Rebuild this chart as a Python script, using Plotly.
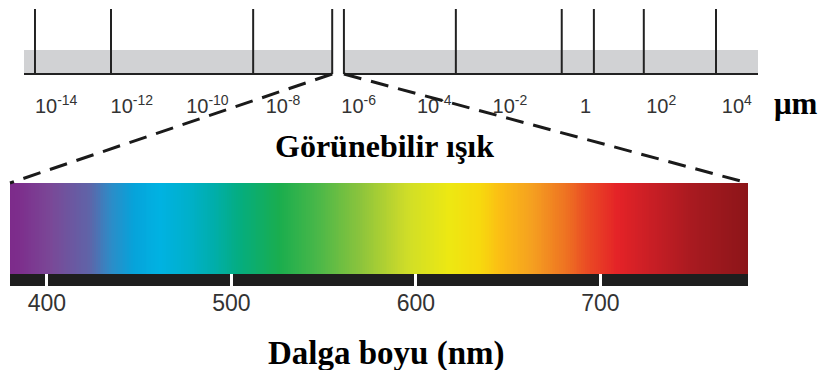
import numpy as np
import plotly.graph_objects as go

# page body has an 8px margin; figure is sized so it fits the 827x378 window
OFF = 8
FW, FH = 827 - 2 * OFF, 378 - 2 * OFF

# ---------------- data ----------------
# top scale: wavelength in micrometres, axis in log10 units (exponent)
scale_tick_exp = [-14, -12, -10, -8, -6, -4, -2, 0, 2, 4]
scale_tick_text = ["10<sup>-14</sup>", "10<sup>-12</sup>", "10<sup>-10</sup>", "10<sup>-8</sup>",
                   "10<sup>-6</sup>", "10<sup>-4</sup>", "10<sup>-2</sup>", "1",
                   "10<sup>2</sup>", "10<sup>4</sup>"]
# region boundaries (log10 of wavelength in um)
boundary_exp = [-14.56, -12.55, -8.79, -6.70, -6.39, -3.43, -0.63, 0.22, 1.54, 3.45]
# band segments (the break is the visible-light zoom)
band_segments = [(-14.85, -6.70), (-6.39, 4.56)]
visible_break = (-6.70, -6.39)

# visible spectrum
spectrum_range_nm = (380, 780)
spectrum_tick_nm = [400, 500, 600, 700]
spectrum_stop_nm = [380, 385, 402, 423, 434, 447, 461, 476, 490, 505, 526, 548, 570, 591,
                    597, 618, 635, 645, 663, 682, 693, 709, 728, 750, 780]
spectrum_stop_color = ["#7D2B8B", "#7D2E8C", "#7A4897", "#5F64A8", "#2F8AC6", "#06A3DA",
                       "#00B2E2", "#00B0CC", "#00AEAC", "#05AD7E", "#1AAD4E", "#4DB848",
                       "#8CC43C", "#C5D82C", "#D2DF26", "#EDE812", "#F7D90E", "#FBBF14",
                       "#F5A020", "#EE7022", "#EA4A24", "#E42327", "#C81E25", "#A81A20",
                       "#8C1519"]

title_visible = "Görünebilir ışık"
title_axis = "Dalga boyu (nm)"
unit_label = "μm"


# ---------------- layout geometry (window pixels -> paper) ----------------
def PX(p):
    return (p - OFF) / FW


def PY(p):
    return 1 - (p - OFF) / FH


top_dom_x = (PX(24), PX(758))
top_range_x = (band_segments[0][0], band_segments[1][1])
top_dom_y = (PY(76), 1.0)
UNIT = 65.0  # px per y unit on the top scale (y=0 at 74px, y=1 at 9px)
top_range_y = (-2 / UNIT, 1 + 1 / UNIT)
band_top = 24 / UNIT

spec_dom_x = (PX(10), PX(748))
spec_dom_y = (PY(286), PY(183))
bar_h = 12 / 91
spec_range_y = (-bar_h, 1)


def to_paper(v, dom, rng):
    return dom[0] + (v - rng[0]) / (rng[1] - rng[0]) * (dom[1] - dom[0])


fig = go.Figure()

# top scale: vertical boundary lines
vx, vy = [], []
for e in boundary_exp:
    vx += [e, e, None]
    vy += [0, 1, None]
fig.add_trace(go.Scatter(x=vx, y=vy, mode="lines", line=dict(color="#222", width=2),
                         xaxis="x", yaxis="y", hoverinfo="skip", showlegend=False))
# baseline
bx, by = [], []
for a, b in band_segments:
    bx += [a, b, None]
    by += [0, 0, None]
fig.add_trace(go.Scatter(x=bx, y=by, mode="lines", line=dict(color="#222", width=2),
                         xaxis="x", yaxis="y", hoverinfo="skip", showlegend=False))

shapes = []
for a, b in band_segments:
    shapes.append(dict(type="rect", xref="x", yref="y", x0=a, x1=b, y0=0, y1=band_top,
                       fillcolor="#D1D2D4", line=dict(width=0), layer="below"))

# spectrum heatmap
wl = np.arange(spectrum_range_nm[0], spectrum_range_nm[1] + 1, 1)
cs = [[(n - spectrum_range_nm[0]) / (spectrum_range_nm[1] - spectrum_range_nm[0]), c]
      for n, c in zip(spectrum_stop_nm, spectrum_stop_color)]
fig.add_trace(go.Heatmap(x=wl, y=[0.5], z=[wl], colorscale=cs, zmin=spectrum_range_nm[0],
                         zmax=spectrum_range_nm[1], showscale=False, xaxis="x2", yaxis="y2",
                         hoverinfo="skip"))
shapes.append(dict(type="rect", xref="x2", yref="y2", x0=spectrum_range_nm[0],
                   x1=spectrum_range_nm[1], y0=-bar_h, y1=0, fillcolor="#1E1E1E",
                   line=dict(width=0), layer="below"))

# dashed zoom lines
for e, nm in [(visible_break[0], spectrum_range_nm[0]), (visible_break[1], spectrum_range_nm[1])]:
    shapes.append(dict(type="line", xref="paper", yref="paper",
                       x0=to_paper(e, top_dom_x, top_range_x),
                       y0=to_paper(0, top_dom_y, top_range_y),
                       x1=to_paper(nm, spec_dom_x, spectrum_range_nm),
                       y1=to_paper(1, spec_dom_y, spec_range_y),
                       line=dict(color="#1a1a1a", width=3, dash="18px,10px")))

annotations = [
    dict(text="<b>%s</b>" % unit_label, x=PX(796), y=PY(103)),
    dict(text="<b>%s</b>" % title_visible, x=PX(384), y=PY(146)),
    dict(text="<b>%s</b>" % title_axis, x=PX(386), y=PY(353)),
]
ann_sizes = [31, 32, 33]
for a, s in zip(annotations, ann_sizes):
    a.update(xref="paper", yref="paper", xanchor="center", yanchor="middle", showarrow=False,
             font=dict(family="Liberation Serif", size=s, color="#000"))

fig.update_layout(
    width=FW, height=FH, margin=dict(l=0, r=0, t=0, b=0),
    paper_bgcolor="white", plot_bgcolor="rgba(0,0,0,0)",
    showlegend=False,
    xaxis=dict(domain=list(top_dom_x), range=list(top_range_x), tickvals=scale_tick_exp,
               ticktext=scale_tick_text, showgrid=False, zeroline=False, showline=False,
               ticks="", ticklabelstandoff=16,
               tickfont=dict(family="Liberation Sans", size=20, color="#333"), anchor="y"),
    yaxis=dict(domain=list(top_dom_y), range=list(top_range_y), visible=False, anchor="x"),
    xaxis2=dict(domain=list(spec_dom_x), range=list(spectrum_range_nm), tickvals=spectrum_tick_nm,
                showgrid=False, zeroline=False, showline=False, ticks="inside", ticklen=12,
                tickwidth=3, tickcolor="white", anchor="y2", ticklabelstandoff=1,
                tickfont=dict(family="Liberation Sans", size=23, color="#333")),
    yaxis2=dict(domain=list(spec_dom_y), range=list(spec_range_y), visible=False, anchor="x2"),
    shapes=shapes, annotations=annotations,
)

fig.write_html("out.html")
